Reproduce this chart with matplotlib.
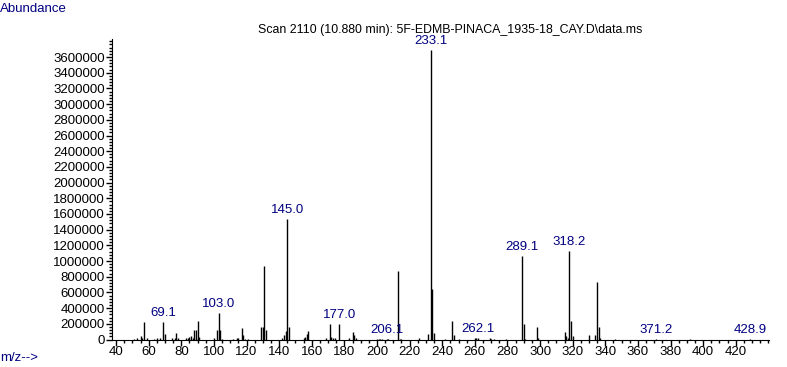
import matplotlib.pyplot as plt
from matplotlib.ticker import MultipleLocator, FuncFormatter

plt.rcParams['font.family'] = ['Liberation Sans', 'DejaVu Sans']

# m/z of every peak and its abundance
mz = [51, 53, 55, 56, 57, 59, 63, 65, 67, 69, 70, 74, 76, 77, 78,
      83, 84, 85, 86, 87, 88, 89, 90, 91, 100, 102, 103, 104, 105,
      112, 114, 115, 117, 118, 119, 121, 129, 130, 131, 132,
      142, 143, 144, 145, 146, 155, 156, 157, 158, 169, 171, 172, 173, 174,
      177, 183, 185, 186, 187, 200, 201, 202, 203, 206, 207, 213, 214, 215,
      226, 231, 233, 234, 235, 242, 246, 247, 250, 260, 261, 262,
      269, 270, 272, 279, 289, 290, 291, 298, 299, 315, 316, 317, 318,
      319, 320, 330, 334, 335, 336, 337, 346, 371, 392, 429]
abundance = [10000, 15000, 40000, 20000, 223000, 20000, 12000, 15000, 20000, 225000, 70000, 15000, 25000, 83000, 20000,
             20000, 25000, 35000, 45000, 25000, 115000, 115000, 236000, 35000, 15000, 121000, 338000, 127000, 12000,
             12000, 15000, 20000, 146000, 57000, 12000, 10000, 159000, 159000, 936000, 121000,
             15000, 61000, 108000, 1535000, 159000, 15000, 30000, 75000, 108000, 15000, 197000, 30000, 20000, 15000,
             197000, 15000, 96000, 57000, 15000, 10000, 12000, 10000, 10000, 12000, 12000, 873000, 12000, 10000,
             15000, 70000, 3688000, 643000, 83000, 10000, 236000, 57000, 10000, 18000, 20000, 22000,
             20000, 12000, 10000, 10000, 1064000, 197000, 12000, 159000, 15000, 96000, 45000, 25000, 1127000,
             236000, 45000, 61000, 61000, 729000, 159000, 20000, 8000, 6000, 5000, 5000]

# labelled peaks
label_mz = [69, 103, 145, 177, 206, 233, 262, 289, 318, 371, 429]
label_text = ['69.1', '103.0', '145.0', '177.0', '206.1', '233.1', '262.1', '289.1', '318.2', '371.2', '428.9']

navy = '#000080'

fig = plt.figure(figsize=(7.87, 3.67), dpi=100)
ax = fig.add_axes([112 / 787, 27.5 / 367, 657 / 787, 300.5 / 367])

ax.vlines(mz, 0, abundance, color='black', linewidth=1)  # the spectrum sticks

for m, t in zip(label_mz, label_text):
    y = abundance[mz.index(m)]
    ax.annotate(t, (m, y), xytext=(0, 2), textcoords='offset points',
                ha='center', va='bottom', color=navy, fontsize=9.5)

ax.set_xlim(37.5, 440.4)
ax.set_ylim(0, 3830000)
ax.xaxis.set_minor_locator(MultipleLocator(5))
ax.yaxis.set_minor_locator(MultipleLocator(40000))
ax.set_xticks(range(40, 421, 20))
ax.set_yticks(range(0, 3600001, 200000))
ax.yaxis.set_major_formatter(FuncFormatter(lambda v, p: '%d' % v))  # plain integers, no 1e6
ax.tick_params(which='major', length=4, width=1, labelsize=9.5, pad=1)
ax.tick_params(which='minor', length=2, width=1)
ax.spines['top'].set_visible(False)
ax.spines['right'].set_visible(False)

fig.text(450 / 787, 1 - 30 / 367, 'Scan 2110 (10.880 min): 5F-EDMB-PINACA_1935-18_CAY.D\\data.ms',
         ha='center', va='center', fontsize=8.9)
fig.text(0.0, 1 - 9 / 367, 'Abundance', ha='left', va='center', color=navy, fontsize=9.5)
fig.text(0.0, 1 - 358 / 367, 'm/z-->', ha='left', va='center', color=navy, fontsize=9.5)

fig.savefig('out.png', dpi=100)
